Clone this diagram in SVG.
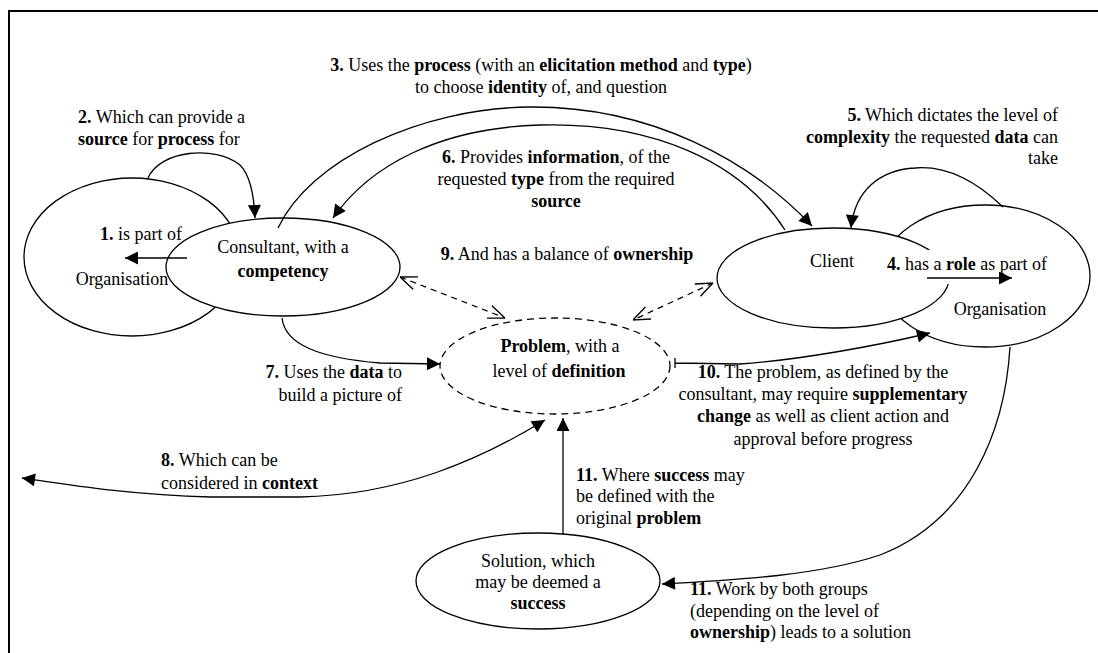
<svg xmlns="http://www.w3.org/2000/svg" width="1098" height="653" viewBox="0 0 1098 653">
<style>
text{font-family:"Liberation Serif","DejaVu Serif",serif;font-size:18px;fill:#000}
.b{font-weight:bold}
.m{text-anchor:middle}
.e{text-anchor:end}
.node{fill:#fff;stroke:#000;stroke-width:1.3}
.dash{stroke-dasharray:7 5}
.c{fill:none;stroke:#000;stroke-width:1.3}
.cd{fill:none;stroke:#000;stroke-width:1.3;stroke-dasharray:6 5}
</style>
<defs>
<marker id="ah" viewBox="0 0 10 10" refX="10" refY="5" markerWidth="15" markerHeight="13" markerUnits="userSpaceOnUse" orient="auto-start-reverse"><path d="M0,0 L10,5 L0,10 z" fill="#000"/></marker>
<marker id="oa" viewBox="0 0 10 10" refX="10" refY="5" markerWidth="17" markerHeight="17" markerUnits="userSpaceOnUse" orient="auto-start-reverse"><path d="M0,1 L10,5 L0,9" fill="none" stroke="#000" stroke-width="0.8"/></marker>
</defs>
<rect width="1098" height="653" fill="#fff"/>
<path d="M9,653 L9,11 L1098,11" fill="none" stroke="#000" stroke-width="2"/>

<g id="orgLeft"><ellipse class="node" cx="132" cy="257" rx="108" ry="79"/></g>
<g id="consultant"><ellipse class="node" cx="283" cy="267" rx="117" ry="49"/>
<text class="m" x="283" y="253">Consultant, with a</text>
<text class="m b" x="283" y="277">competency</text></g>
<g id="orgLeftLabel"><text class="m" x="122" y="285">Organisation</text></g>

<g id="orgRight"><ellipse class="node" cx="985" cy="276" rx="105" ry="71"/></g>
<g id="client"><ellipse class="node" cx="833" cy="278" rx="116" ry="50"/>
<text class="m" x="832" y="267">Client</text></g>
<g id="orgRightLabel"><rect x="884" y="250" width="176" height="34" fill="#fff"/>
<text class="m" x="1000" y="315">Organisation</text></g>

<g id="problem"><ellipse class="node dash" cx="555" cy="366" rx="115" ry="48"/>
<text class="m" x="560" y="352"><tspan class="b">Problem</tspan>, with a</text>
<text class="m" x="559" y="377">level of <tspan class="b">definition</tspan></text></g>

<g id="solution"><ellipse class="node" cx="538" cy="581" rx="122" ry="48"/>
<text class="m" x="538" y="567">Solution, which</text>
<text class="m" x="538" y="588">may be deemed a</text>
<text class="m b" x="538" y="609">success</text></g>

<g id="connectors">
<path class="c" d="M187,258 L125,258" marker-end="url(#ah)"/>
<path class="c" d="M148,178 C160,150 215,145 240,165 C250,175 254,195 255,218" marker-end="url(#ah)"/>
<path class="c" d="M278,228 C310,160 420,108 530,107 C650,106 750,160 812,226" marker-end="url(#ah)"/>
<path class="c" d="M785,230 C740,160 650,122 540,125 C440,128 370,165 333,218" marker-end="url(#ah)"/>
<path class="c" d="M1003,207 C980,185 950,165 915,168 C880,170 855,190 851,228" marker-end="url(#ah)"/>
<path class="c" d="M927,278 L1012,278" marker-end="url(#ah)"/>
<path class="c" d="M282,318 C285,345 320,358 380,363 L440,364" marker-end="url(#ah)"/>
<path class="c" d="M545,420 C480,460 400,495 300,497 L210,497 C130,495 70,485 22,478" marker-start="url(#ah)" marker-end="url(#ah)"/>
<path class="cd" d="M400,277 L505,318" marker-start="url(#oa)" marker-end="url(#oa)"/>
<path class="cd" d="M713,283 L633,320" marker-start="url(#oa)" marker-end="url(#oa)"/>
<path class="c" d="M675,358 L675,368 M675,363 L740,364 C800,360 880,345 930,333" marker-end="url(#ah)"/>
<path class="c" d="M563,534 L563,418" marker-end="url(#ah)"/>
<path class="c" d="M1010,347 C1005,430 970,520 880,555 C820,575 740,580 662,584" marker-end="url(#ah)"/>
</g>

<g id="labels">
<text x="100" y="240"><tspan class="b">1.</tspan> is part of</text>
<text x="78" y="123"><tspan class="b">2.</tspan> Which can provide a</text>
<text x="78" y="145"><tspan class="b">source</tspan> for <tspan class="b">process</tspan> for</text>
<text class="m" x="541" y="71"><tspan class="b">3.</tspan> Uses the <tspan class="b">process</tspan> (with an <tspan class="b">elicitation method</tspan> and <tspan class="b">type</tspan>)</text>
<text class="m" x="541" y="93">to choose <tspan class="b">identity</tspan> of, and question</text>
<text x="887" y="270"><tspan class="b">4.</tspan> has a <tspan class="b">role</tspan> as part of</text>
<text class="e" x="1058" y="121"><tspan class="b">5.</tspan> Which dictates the level of</text>
<text class="e" x="1058" y="143"><tspan class="b">complexity</tspan> the requested <tspan class="b">data</tspan> can</text>
<text class="e" x="1058" y="164">take</text>
<text class="m" x="556" y="163"><tspan class="b">6.</tspan> Provides <tspan class="b">information</tspan>, of the</text>
<text class="m" x="556" y="185">requested <tspan class="b">type</tspan> from the required</text>
<text class="m b" x="556" y="207">source</text>
<text class="e" x="402" y="378"><tspan class="b">7.</tspan> Uses the <tspan class="b">data</tspan> to</text>
<text class="e" x="402" y="401">build a picture of</text>
<text x="161" y="466"><tspan class="b">8.</tspan> Which can be</text>
<text x="161" y="489">considered in <tspan class="b">context</tspan></text>
<text class="m" x="567" y="260"><tspan class="b">9.</tspan> And has a balance of <tspan class="b">ownership</tspan></text>
<text class="m" x="823" y="378"><tspan class="b">10.</tspan> The problem, as defined by the</text>
<text class="m" x="823" y="400">consultant, may require <tspan class="b">supplementary</tspan></text>
<text class="m" x="823" y="422"><tspan class="b">change</tspan> as well as client action and</text>
<text class="m" x="823" y="445">approval before progress</text>
<text x="576" y="481"><tspan class="b">11.</tspan> Where <tspan class="b">success</tspan> may</text>
<text x="576" y="502">be defined with the</text>
<text x="576" y="524">original <tspan class="b">problem</tspan></text>
<text x="690" y="595"><tspan class="b">11.</tspan> Work by both groups</text>
<text x="690" y="617">(depending on the level of</text>
<text x="690" y="638"><tspan class="b">ownership</tspan>) leads to a solution</text>
</g>
</svg>
